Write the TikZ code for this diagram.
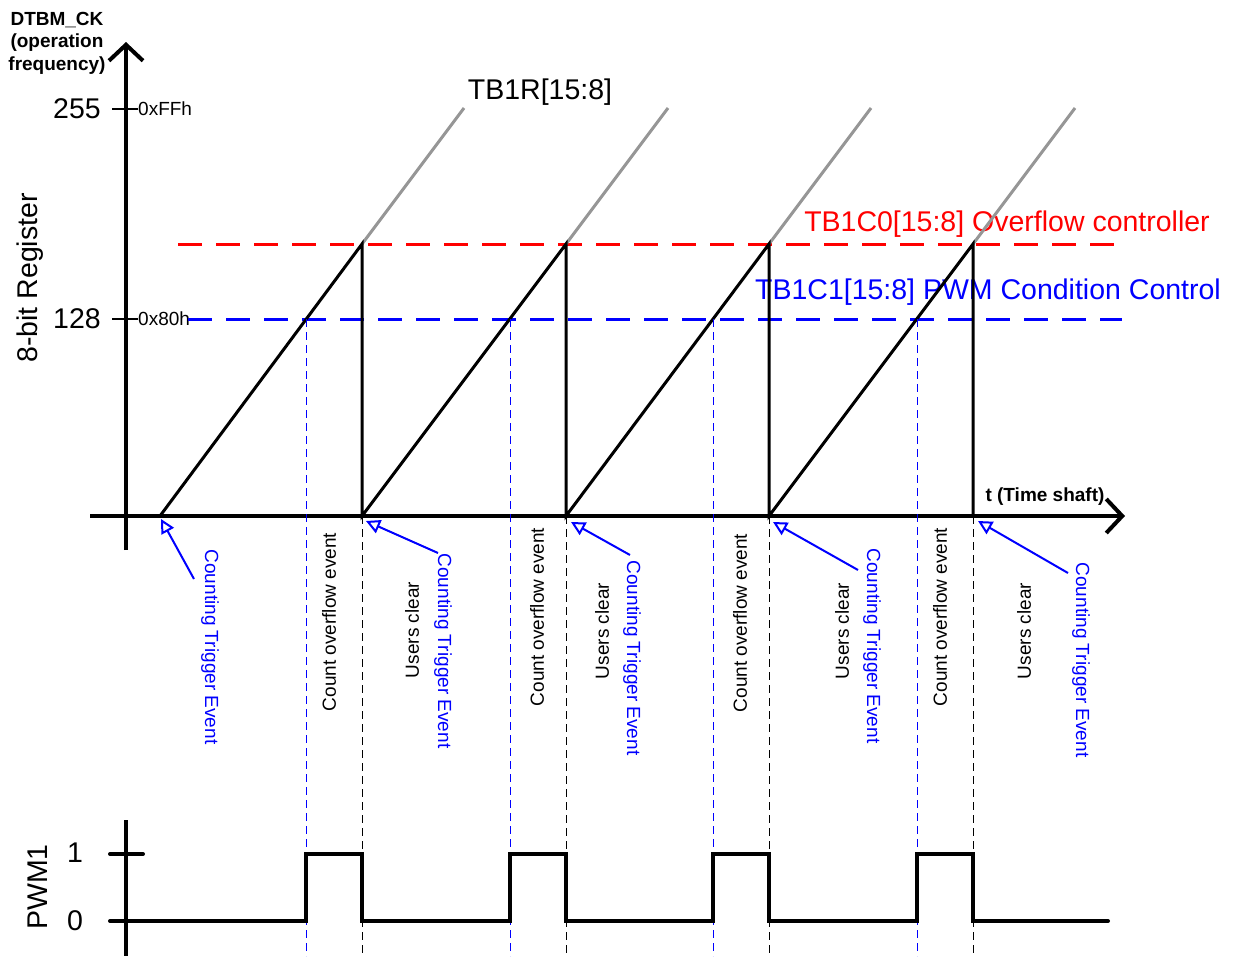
\documentclass[tikz,border=0pt]{standalone}
\usepackage{fontspec}
\setmainfont{Liberation Sans}
\usetikzlibrary{arrows.meta}
\definecolor{extgray}{RGB}{150,150,150}

\begin{document}
\begin{tikzpicture}[x=1pt, y=-1pt,
  every node/.style={inner sep=0pt},
  axis/.style={line width=4pt, -{Straight Barb[length=16pt,width=34pt]}},
  ramp/.style={line width=3pt},
  ext/.style={line width=3pt, extgray},
  lvl/.style={line width=3pt, dash pattern=on 24pt off 14pt},
  guide/.style={line width=1pt, dash pattern=on 8pt off 5pt},
  tick/.style={line width=1.2pt},
  callout/.style={blue, line width=2pt, -{Triangle[open,length=14pt,width=14pt]}},
  big/.style={font=\fontsize{28.5}{32}\selectfont},
  small/.style={font=\fontsize{19}{22.5}\selectfont},
  heavy/.style={font=\fontsize{19}{22.5}\selectfont\bfseries},
  evt/.style={small, rotate=90},
  trig/.style={small, blue, rotate=-90}]
  \useasboundingbox (0,0) rectangle (1234,956);

  % axes of the register
  \draw[axis] (126,550) -- (126,42);
  \draw[axis] (90,516) -- (1125,516);
  \node[heavy, align=center] (clk) at (57,43) {DTBM\_CK\\(operation\\frequency)};
  \node[big, rotate=90] (reg) at (30,278) {8-bit Register};
  \node[heavy] (tshaft) at (1045,497) {t (Time shaft)};
  \draw[tick] (112,109) -- (138,109);
  \draw[tick] (112,319) -- (138,319);
  \node[big, anchor=east] (v255) at (101,109) {255};
  \node[big, anchor=east] (v128) at (101,319) {128};
  \node[small, anchor=west] (hFF) at (138,109) {0xFFh};
  \node[small, anchor=west] (h80) at (138,319) {0x80h};

  % compare levels
  \draw[lvl, red] (178,244) -- (1115,244);
  \draw[lvl, blue] (188,319) -- (1122,319);
  \node[big] (tbr) at (540,92) {TB1R[15:8]};
  \node[big, red] (tbc0) at (1007,224) {TB1C0[15:8] Overflow controller};
  \node[big, blue] (tbc1) at (988,292) {TB1C1[15:8] PWM Condition Control};

  % counter ramps
  \coordinate (b0) at (160,516);
  \coordinate (b1) at (362,516);
  \coordinate (b2) at (566,516);
  \coordinate (b3) at (769,516);
  \coordinate (b4) at (973,516);
  \draw[ext] (362,244) -- (464,108);
  \draw[ext] (566,244) -- (668,108);
  \draw[ext] (769,244) -- (871,108);
  \draw[ext] (973,244) -- (1075,108);
  \draw[ramp] (b0) -- (362,244) -- (b1) -- (566,244) -- (b2) -- (769,244)
    -- (b3) -- (973,244) -- (b4);

  % guide lines
  \draw[guide, blue] (306,319) -- (306,956);
  \draw[guide, blue] (510,319) -- (510,956);
  \draw[guide, blue] (713,319) -- (713,956);
  \draw[guide, blue] (917,319) -- (917,956);
  \draw[guide] (b1) -- (362,956);
  \draw[guide] (b2) -- (566,956);
  \draw[guide] (b3) -- (769,956);
  \draw[guide] (b4) -- (973,956);

  % event labels
  \node[trig] (ct0) at (210,647) {Counting Trigger Event};
  \node[trig] (ct1) at (443,651) {Counting Trigger Event};
  \node[trig] (ct2) at (632,658) {Counting Trigger Event};
  \node[trig] (ct3) at (872,646) {Counting Trigger Event};
  \node[trig] (ct4) at (1081,660) {Counting Trigger Event};
  \node[evt] (ov1) at (329,622) {Count overflow event};
  \node[evt] (ov2) at (537,617) {Count overflow event};
  \node[evt] (ov3) at (740,623) {Count overflow event};
  \node[evt] (ov4) at (940,617) {Count overflow event};
  \node[evt] (uc1) at (412,630) {Users clear};
  \node[evt] (uc2) at (602,631) {Users clear};
  \node[evt] (uc3) at (842,631) {Users clear};
  \node[evt] (uc4) at (1024,631) {Users clear};
  \coordinate (t0) at (194,579);
  \coordinate (t1) at (438,553);
  \coordinate (t2) at (630,555);
  \coordinate (t3) at (858,570);
  \coordinate (t4) at (1068,573);
  \draw[callout] (t0) -- ([shift={(1,3)}]b0);
  \draw[callout] (t1) -- ([shift={(4,5)}]b1);
  \draw[callout] (t2) -- ([shift={(5,6)}]b2);
  \draw[callout] (t3) -- ([shift={(4,6)}]b3);
  \draw[callout] (t4) -- ([shift={(5,5)}]b4);

  % PWM output
  \draw[line width=4pt] (126,820) -- (126,956);
  \draw[line width=4pt, line cap=round] (110,854) -- (143,854);
  \node[big] (one) at (75,853) {1};
  \node[big] (zero) at (75,921) {0};
  \node[big, rotate=90] (pwm) at (38,887) {PWM1};
  \draw[line width=4pt, line cap=round] (110,921) -- (306,921) -- (306,854) -- (362,854)
    -- (362,921) -- (510,921) -- (510,854) -- (566,854) -- (566,921) -- (713,921)
    -- (713,854) -- (769,854) -- (769,921) -- (917,921) -- (917,854) -- (973,854)
    -- (973,921) -- (1108,921);
\end{tikzpicture}
\end{document}
